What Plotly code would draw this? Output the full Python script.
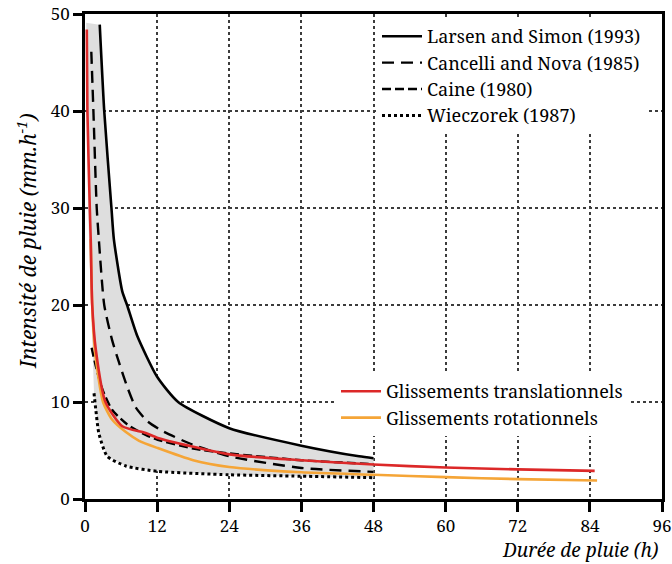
import plotly.graph_objects as go

# ---------------- data ----------------
larsen_x = [2.45, 3.2, 4.4, 4.8, 6.2, 7.0, 8.7, 12.0, 15.5, 24, 36, 45.6, 48]
larsen_y = [48.9, 40, 30, 26.8, 21.4, 20, 16.8, 12.6, 10, 7.3, 5.5, 4.4, 4.2]

cancelli_x = [1.05, 1.4, 1.95, 2.3, 3.2, 4.5, 5.7, 7.0, 8.4, 10.4, 12.9, 17.9, 24, 36, 48]
cancelli_y = [46.1, 40, 30, 26.8, 20, 16.4, 14.0, 11.6, 9.5, 8.0, 7.0, 5.6, 4.4, 3.2, 2.8]

caine_x = [1.1, 1.8, 2.9, 4.5, 7.0, 10.1, 12.1, 18, 24, 36, 48]
caine_y = [15.6, 13.7, 11.3, 9.2, 7.7, 6.6, 6.1, 5.2, 4.7, 4.0, 3.6]

wieczorek_x = [1.5, 1.8, 2.3, 3.7, 6.8, 12.1, 24, 36, 48]
wieczorek_y = [10.9, 9.2, 6.8, 4.4, 3.4, 2.85, 2.5, 2.35, 2.2]

transl_x = [0.3, 0.4, 0.8, 0.95, 1.2, 1.8, 3.4, 6.2, 10.1, 12.1, 24, 36, 48, 60, 72, 84.8]
transl_y = [48.4, 40, 30, 26.8, 20, 15.4, 10, 7.5, 6.8, 6.3, 4.6, 4.0, 3.55, 3.25, 3.05, 2.9]

rot_x = [0.95, 1.2, 1.7, 3.0, 4.5, 6.8, 9, 12.1, 18, 24, 36, 48, 60, 72, 85.2]
rot_y = [26.8, 20, 15, 10, 8.2, 6.9, 6.0, 5.25, 4.0, 3.3, 2.75, 2.5, 2.25, 2.05, 1.9]

envelope_edge_x = [0.2, 0.5, 1.0, 1.3]
envelope_edge_y = [49.1, 30, 20, 15]

x_ticks = [0, 12, 24, 36, 48, 60, 72, 84, 96]
y_ticks = [0, 10, 20, 30, 40, 50]

names = {
    "larsen": "Larsen and Simon (1993)",
    "cancelli": "Cancelli and Nova (1985)",
    "caine": "Caine (1980)",
    "wieczorek": "Wieczorek (1987)",
    "transl": "Glissements translationnels",
    "rot": "Glissements rotationnels",
}

FONT = "Noto Serif"

fig = go.Figure()

env_x = envelope_edge_x + wieczorek_x + larsen_x[::-1] + envelope_edge_x[:1]
env_y = envelope_edge_y + wieczorek_y + larsen_y[::-1] + envelope_edge_y[:1]
fig.add_trace(go.Scatter(x=env_x, y=env_y, mode="lines", fill="toself",
                         fillcolor="rgb(222,222,222)", line=dict(width=0),
                         hoverinfo="skip", showlegend=False))

line_shape = dict(shape="spline", smoothing=0.6)

fig.add_trace(go.Scatter(x=larsen_x, y=larsen_y, mode="lines", name=names["larsen"],
                         line=dict(color="black", width=2.6, **line_shape), legend="legend"))
fig.add_trace(go.Scatter(x=cancelli_x, y=cancelli_y, mode="lines", name=names["cancelli"],
                         line=dict(color="black", width=2.4, dash="12px,7px", **line_shape), legend="legend"))
fig.add_trace(go.Scatter(x=caine_x, y=caine_y, mode="lines", name=names["caine"],
                         line=dict(color="black", width=2.4, dash="9px,4px", **line_shape), legend="legend"))
fig.add_trace(go.Scatter(x=wieczorek_x, y=wieczorek_y, mode="lines", name=names["wieczorek"],
                         line=dict(color="black", width=3, dash="3px,3px", **line_shape), legend="legend"))
fig.add_trace(go.Scatter(x=rot_x, y=rot_y, mode="lines", name=names["rot"],
                         line=dict(color="rgb(245,165,55)", width=2.6, **line_shape), legend="legend2"))
fig.add_trace(go.Scatter(x=transl_x, y=transl_y, mode="lines", name=names["transl"],
                         line=dict(color="rgb(220,40,40)", width=2.6, **line_shape), legend="legend2"))

L, R, T, B = 85, 10, 14, 65
W, H = 672, 564
pw = W - L - R
ph = H - T - B

def px_x(px):
    return (px - L) / pw

def px_y(py):
    return (H - B - py) / ph

axis_common = dict(showline=True, linecolor="black", linewidth=2.5, mirror=True,
                   ticks="outside", tickcolor="black", tickwidth=2.5,
                   showgrid=True, gridcolor="rgb(60,60,60)", gridwidth=1.5, griddash="dot",
                   zeroline=False, automargin=False,
                   tickfont=dict(family=FONT, size=17, color="black"))

fig.update_xaxes(range=[0, 96], tickvals=x_ticks, ticklen=10, **axis_common)
fig.update_yaxes(range=[0, 50], tickvals=y_ticks, ticklen=9, **axis_common)

fig.update_layout(
    width=W, height=H,
    margin=dict(l=L, r=R, t=T, b=B, pad=0, autoexpand=False),
    plot_bgcolor="white", paper_bgcolor="white",
    font=dict(family=FONT, size=18, color="black"),
    legend=dict(x=px_x(377), y=px_y(18), xanchor="left", yanchor="top",
                bgcolor="white", borderwidth=0, tracegroupgap=0,
                font=dict(family=FONT, size=18, color="black"),
                traceorder="normal", itemwidth=40),
    legend2=dict(x=px_x(336), y=px_y(373), xanchor="left", yanchor="top",
                 bgcolor="white", borderwidth=0, tracegroupgap=0,
                 font=dict(family=FONT, size=18, color="black"),
                 traceorder="reversed", itemwidth=40),
    annotations=[
        dict(text="<i>Durée de pluie (h)</i>", xref="paper", yref="paper",
             x=px_x(661), y=px_y(550), xanchor="right", yanchor="middle",
             showarrow=False, font=dict(family=FONT, size=19, color="black")),
        dict(text="<i>Intensité de pluie (mm.h<sup>-1</sup>)</i>", xref="paper", yref="paper",
             x=px_x(26), y=px_y(241), xanchor="center", yanchor="middle", textangle=-90,
             showarrow=False, font=dict(family=FONT, size=21, color="black")),
    ],
)

fig.write_html("out.html", config={"displayModeBar": False},
               post_script="document.body.style.margin='0px';document.body.style.overflow='hidden';")
